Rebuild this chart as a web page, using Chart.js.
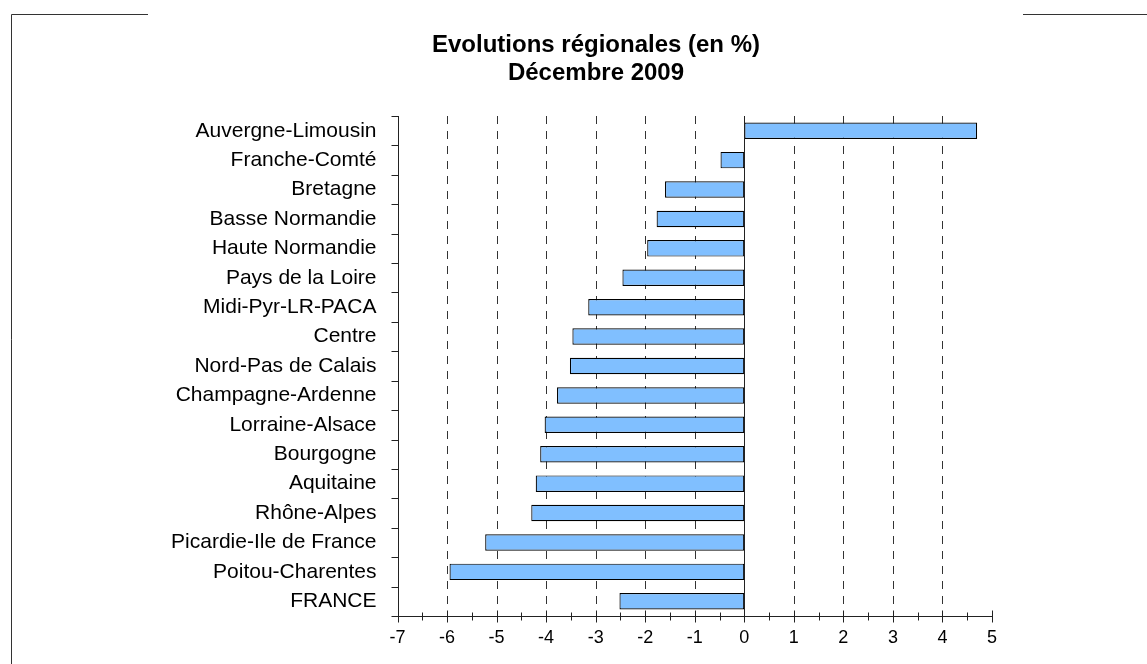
<!DOCTYPE html>
<html lang="fr">
<head>
  <meta charset="UTF-8">
  <script src="https://cdn.jsdelivr.net/npm/chart.js"></script>
  <title>Evolutions régionales</title>
  <style>
    html, body { margin: 0; padding: 0; background: #fff; }
    #wrap { width: 1147px; height: 664px; position: relative; }
  </style>
</head>
<body>
  <div id="wrap"><canvas id="chart" width="1147" height="664"></canvas></div>
  <script>
    const regions = ['Auvergne-Limousin', 'Franche-Comté', 'Bretagne', 'Basse Normandie', 'Haute Normandie',
      'Pays de la Loire', 'Midi-Pyr-LR-PACA', 'Centre', 'Nord-Pas de Calais', 'Champagne-Ardenne',
      'Lorraine-Alsace', 'Bourgogne', 'Aquitaine', 'Rhône-Alpes', 'Picardie-Ile de France',
      'Poitou-Charentes', 'FRANCE'];
    const evolutions = [4.70, -0.48, -1.60, -1.77, -1.96, -2.46, -3.15, -3.47, -3.52, -3.78,
      -4.03, -4.12, -4.21, -4.30, -5.23, -5.95, -2.52];
    const xMin = -7, xMax = 5;
    const titleLines = ['Evolutions régionales (en %)', 'Décembre 2009'];

    const FONT = "'Liberation Sans', Arial, sans-serif";

    // title, axes, grid and frame, placed with the scales' pixel functions
    const axesPlugin = {
      id: 'axes',
      beforeDatasetsDraw(chart) {
        const { ctx, chartArea: a, scales: { x } } = chart;
        ctx.save();
        ctx.lineWidth = 1;
        ctx.strokeStyle = '#333';
        ctx.setLineDash([8, 7]);
        for (let v = xMin + 1; v < xMax; v++) {
          if (v === 0) continue;
          const px = Math.round(x.getPixelForValue(v)) + 0.5;
          ctx.beginPath();
          ctx.moveTo(px, a.top);
          ctx.lineTo(px, a.bottom);
          ctx.stroke();
        }
        ctx.restore();
      },
      afterDatasetsDraw(chart) {
        const { ctx, chartArea: a, scales: { x, y } } = chart;
        ctx.save();
        ctx.lineWidth = 1;
        ctx.strokeStyle = '#222';
        const zero = Math.round(x.getPixelForValue(0)) + 0.5;
        const left = Math.round(x.getPixelForValue(xMin)) + 0.5;
        const right = Math.round(x.getPixelForValue(xMax)) + 0.5;
        const bottom = Math.round(a.bottom) + 0.5;
        const band = y.getPixelForValue(1) - y.getPixelForValue(0);
        ctx.beginPath();
        ctx.moveTo(zero, a.top); ctx.lineTo(zero, a.bottom);
        ctx.moveTo(left, a.top); ctx.lineTo(left, bottom);
        ctx.moveTo(left, bottom); ctx.lineTo(right, bottom);
        // x ticks, crossing the axis
        for (let v = xMin; v <= xMax; v += 0.5) {
          const px = Math.round(x.getPixelForValue(v)) + 0.5;
          const h = Number.isInteger(v) ? 6 : 4;
          ctx.moveTo(px, bottom - h); ctx.lineTo(px, bottom + h);
        }
        // y ticks at category boundaries
        for (let i = 0; i <= regions.length; i++) {
          const py = Math.round(y.getPixelForValue(i) - band / 2) + 0.5;
          ctx.moveTo(left - 7, py); ctx.lineTo(left, py);
        }
        ctx.stroke();
        // page frame
        ctx.strokeStyle = '#333';
        ctx.beginPath();
        ctx.moveTo(11.5, 664); ctx.lineTo(11.5, 14.5); ctx.lineTo(148, 14.5);
        ctx.moveTo(1023, 14.5); ctx.lineTo(1147, 14.5);
        ctx.stroke();
        // title
        ctx.fillStyle = '#000';
        ctx.font = 'bold 24px ' + FONT;
        ctx.textAlign = 'center';
        ctx.textBaseline = 'middle';
        titleLines.forEach((t, i) => ctx.fillText(t, 596, 45 + i * 28));
        ctx.restore();
      }
    };

    new Chart(document.getElementById('chart'), {
      type: 'bar',
      data: {
        labels: regions,
        datasets: [{
          data: evolutions,
          backgroundColor: '#80bfff',
          borderColor: '#000',
          borderWidth: 1.2,
          borderSkipped: false,
          categoryPercentage: 1,
          barPercentage: 0.56
        }]
      },
      options: {
        indexAxis: 'y',
        responsive: false,
        animation: false,
        layout: { padding: { left: 130, right: 155, top: 116, bottom: 0 } },
        plugins: {
          legend: { display: false },
          tooltip: { enabled: false },
          title: { display: false }
        },
        scales: {
          x: {
            min: xMin,
            max: xMax,
            afterFit(s) { s.height = 48; },
            grid: { display: false, drawTicks: false },
            border: { display: false },
            ticks: {
              stepSize: 1,
              color: '#000',
              padding: 11,
              font: { family: FONT, size: 18 }
            }
          },
          y: {
            afterFit(s) { s.width = 267.5; },
            grid: { display: false, drawTicks: false },
            border: { display: false },
            ticks: {
              color: '#000',
              padding: 21,
              autoSkip: false,
              font: { family: FONT, size: 21 }
            }
          }
        }
      },
      plugins: [axesPlugin]
    });
  </script>
</body>
</html>
